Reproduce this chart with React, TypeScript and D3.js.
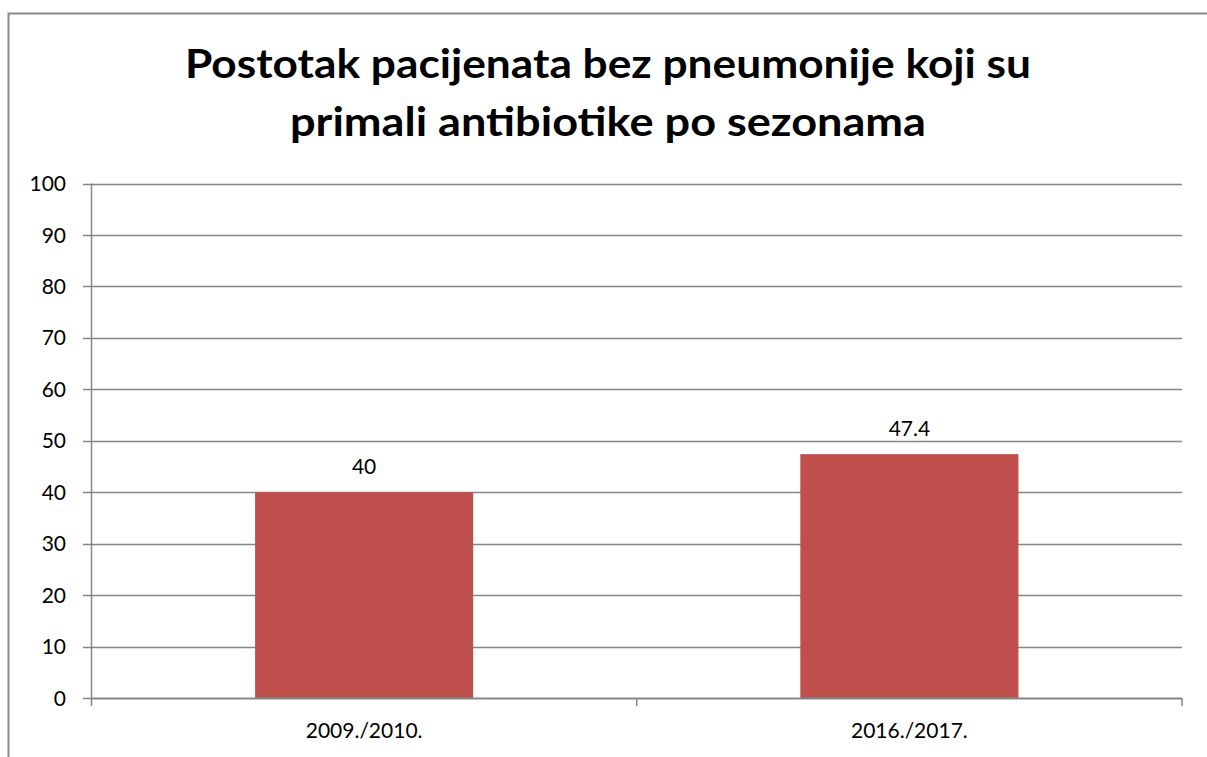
import React, { useEffect, useRef } from "react";
import * as d3 from "d3";

const titleLines = ["Postotak pacijenata bez pneumonije koji su", "primali antibiotike po sezonama"];
const categories = ["2009./2010.", "2016./2017."];
const values = [40, 47.4];
const yTicks = [0, 10, 20, 30, 40, 50, 60, 70, 80, 90, 100];

const W = 1207;
const H = 757;
const FONT = "Lato, 'Open Sans', sans-serif";

export default function App() {
  const ref = useRef<SVGSVGElement>(null);

  useEffect(() => {
    const svg = d3.select(ref.current);
    svg.selectAll("*").remove();

    const left = 91.5, right = 1182, top = 183.5, bottom = 698;
    const x = d3.scaleBand<string>().domain(categories).range([left, right]).paddingInner(0.6).paddingOuter(0.3);
    const y = d3.scaleLinear().domain([0, 100]).range([bottom, top]);

    // outer border
    svg.append("path")
      .attr("d", `M8.5,${H + 2} L8.5,13.5 L${W + 2},13.5`)
      .attr("fill", "none").attr("stroke", "#8a8a8a").attr("stroke-width", 2);

    // title
    const titleWidths = [846, 636];
    svg.append("g").selectAll("text").data(titleLines).join("text")
      .attr("x", 608)
      .attr("y", (_, i) => 78 + i * 58)
      .attr("text-anchor", "middle")
      .attr("font-family", FONT)
      .attr("font-weight", "bold")
      .attr("font-size", 41)
      .attr("fill", "#000")
      .attr("textLength", (_, i) => titleWidths[i])
      .attr("lengthAdjust", "spacingAndGlyphs")
      .text(d => d);

    // gridlines
    svg.append("g").selectAll("line").data(yTicks.filter(t => t > 0)).join("line")
      .attr("x1", left).attr("x2", right)
      .attr("y1", d => Math.round(y(d)) + 0.5).attr("y2", d => Math.round(y(d)) + 0.5)
      .attr("stroke", "#868686").attr("stroke-width", 1.5);

    // bars
    svg.append("g").selectAll("rect").data(values).join("rect")
      .attr("x", (_, i) => x(categories[i])!)
      .attr("width", x.bandwidth())
      .attr("y", d => y(d))
      .attr("height", d => bottom - y(d))
      .attr("fill", "#C0504D");

    // y axis
    const yAxis = svg.append("g");
    yAxis.append("line").attr("x1", left).attr("x2", left).attr("y1", top).attr("y2", bottom)
      .attr("stroke", "#868686").attr("stroke-width", 1.5);
    yAxis.selectAll("line.tick").data(yTicks).join("line").attr("class", "tick")
      .attr("x1", 83).attr("x2", left)
      .attr("y1", d => Math.round(y(d)) + 0.5).attr("y2", d => Math.round(y(d)) + 0.5)
      .attr("stroke", "#868686").attr("stroke-width", 1.5);
    yAxis.selectAll("text").data(yTicks).join("text")
      .attr("x", 66).attr("y", d => y(d))
      .attr("dy", "0.36em")
      .attr("text-anchor", "end")
      .attr("font-family", FONT).attr("font-size", 21).attr("fill", "#000")
      .text(d => d);

    // x axis
    const xAxis = svg.append("g");
    xAxis.append("line").attr("x1", left).attr("x2", right).attr("y1", bottom + 0.5).attr("y2", bottom + 0.5)
      .attr("stroke", "#868686").attr("stroke-width", 2);
    const xEdges = [left, (left + right) / 2, right];
    xAxis.selectAll("line.tick").data(xEdges).join("line").attr("class", "tick")
      .attr("x1", d => d).attr("x2", d => d).attr("y1", bottom).attr("y2", bottom + 8)
      .attr("stroke", "#868686").attr("stroke-width", 1.5);
    xAxis.selectAll("text").data(categories).join("text")
      .attr("x", d => x(d)! + x.bandwidth() / 2)
      .attr("y", 738)
      .attr("text-anchor", "middle")
      .attr("font-family", FONT).attr("font-size", 21).attr("fill", "#000")
      .text(d => d);

    // data labels
    svg.append("g").selectAll("text").data(values).join("text")
      .attr("x", (_, i) => x(categories[i])! + x.bandwidth() / 2)
      .attr("y", d => y(d) - 18)
      .attr("text-anchor", "middle")
      .attr("font-family", FONT).attr("font-size", 21).attr("fill", "#000")
      .text(d => d);
  }, []);

  return <svg ref={ref} width={W} height={H} style={{ display: "block", position: "absolute", left: 0, top: 0, background: "#fff" }} />;
}
